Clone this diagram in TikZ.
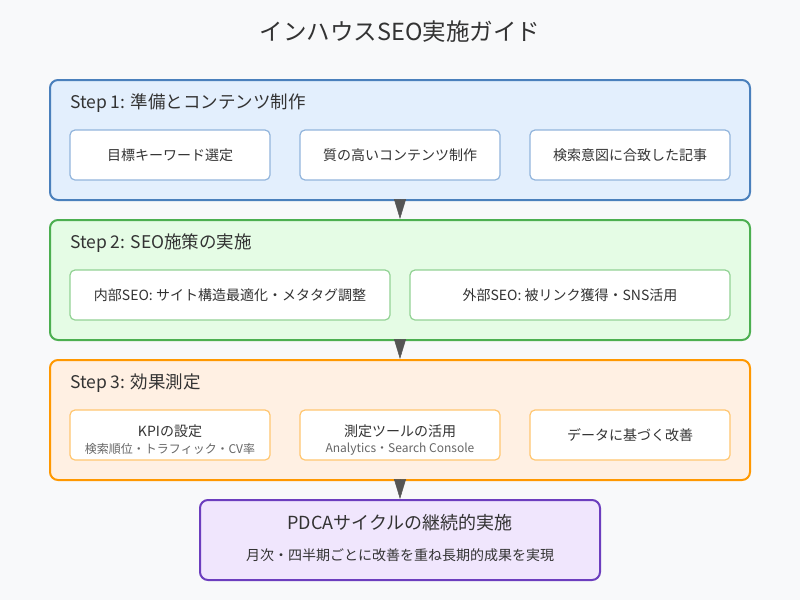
\documentclass[tikz,border=0pt]{standalone}
\usepackage{fontspec}
\setmainfont{Noto Sans CJK JP}
\usetikzlibrary{arrows.meta}
\definecolor{bg}{HTML}{F8F9FA}
\definecolor{txt}{HTML}{333333}
\definecolor{subtxt}{HTML}{666666}
\definecolor{aFill}{HTML}{E3EFFD}
\definecolor{aLine}{HTML}{4A80BC}
\definecolor{aIn}{HTML}{92B5DC}
\definecolor{bFill}{HTML}{E5FCE5}
\definecolor{bLine}{HTML}{4CAF50}
\definecolor{bIn}{HTML}{92D294}
\definecolor{cFill}{HTML}{FFF0E3}
\definecolor{cLine}{HTML}{FF9800}
\definecolor{cIn}{HTML}{FFC670}
\definecolor{dFill}{HTML}{F0E6FD}
\definecolor{dLine}{HTML}{6C3EBE}
\definecolor{arr}{HTML}{555555}
\tikzset{
  outer/.style={draw, line width=2pt, rounded corners=8pt, inner sep=0pt},
  inbox/.style={draw, fill=white, line width=1.2pt, rounded corners=5pt, minimum height=50pt, inner sep=0pt, text=txt, font=\fontsize{14}{16}\selectfont},
  steptitle/.style={anchor=west, inner sep=0pt, text=txt, font=\fontsize{17.5}{20}\selectfont},
  subtext/.style={inner sep=0pt, text=subtxt, font=\fontsize{12}{14}\selectfont},
  maintext/.style={inner sep=0pt, text=txt, font=\fontsize{14}{16}\selectfont},
  flow/.style={draw=arr, fill=arr, line width=0.5pt, -{Triangle[length=20pt,width=12pt]}}
}
\begin{document}
\begin{tikzpicture}[x=1pt,y=-1pt]
\fill[bg] (0,0) rectangle (800,600);
\useasboundingbox (0,0) rectangle (800,600);
\node[text=txt, font=\fontsize{23.5}{27}\selectfont, inner sep=0pt] (title) at (400,32) {インハウスSEO実施ガイド};
% Step 1
\node[outer, fill=aFill, draw=aLine, minimum width=700pt, minimum height=120pt] (s1) at (400,140) {};
\node[steptitle] (t1) at (70,103) {Step 1: 準備とコンテンツ制作};
\node[inbox, draw=aIn, minimum width=200pt] (a1) at (170,155) {目標キーワード選定};
\node[inbox, draw=aIn, minimum width=200pt] (a2) at (400,155) {質の高いコンテンツ制作};
\node[inbox, draw=aIn, minimum width=200pt] (a3) at (630,155) {検索意図に合致した記事};
% Step 2
\node[outer, fill=bFill, draw=bLine, minimum width=700pt, minimum height=120pt] (s2) at (400,280) {};
\node[steptitle] (t2) at (70,243) {Step 2: SEO施策の実施};
\node[inbox, draw=bIn, minimum width=320pt] (b1) at (230,295) {内部SEO: サイト構造最適化・メタタグ調整};
\node[inbox, draw=bIn, minimum width=320pt] (b2) at (570,295) {外部SEO: 被リンク獲得・SNS活用};
% Step 3
\node[outer, fill=cFill, draw=cLine, minimum width=700pt, minimum height=120pt] (s3) at (400,420) {};
\node[steptitle] (t3) at (70,383) {Step 3: 効果測定};
\node[inbox, draw=cIn, minimum width=200pt] (c1) at (170,435) {};
\node[maintext] (c1m) at (170,431) {KPIの設定};
\node[subtext] (c1s) at (170,449) {検索順位・トラフィック・CV率};
\node[inbox, draw=cIn, minimum width=200pt] (c2) at (400,435) {};
\node[maintext] (c2m) at (400,431) {測定ツールの活用};
\node[subtext] (c2s) at (400,449) {Analytics・Search Console};
\node[inbox, draw=cIn, minimum width=200pt] (c3) at (630,435) {データに基づく改善};
% PDCA
\node[outer, fill=dFill, draw=dLine, minimum width=400pt, minimum height=80pt] (d) at (400,540) {};
\node[maintext, font=\fontsize{18}{21}\selectfont] (dm) at (400,523) {PDCAサイクルの継続的実施};
\node[maintext] (ds) at (400,555) {月次・四半期ごとに改善を重ね長期的成果を実現};
% arrows
\draw[flow] (s1.south) -- (s2.north);
\draw[flow] (s2.south) -- (s3.north);
\draw[flow] (s3.south) -- (d.north);
\end{tikzpicture}
\end{document}
